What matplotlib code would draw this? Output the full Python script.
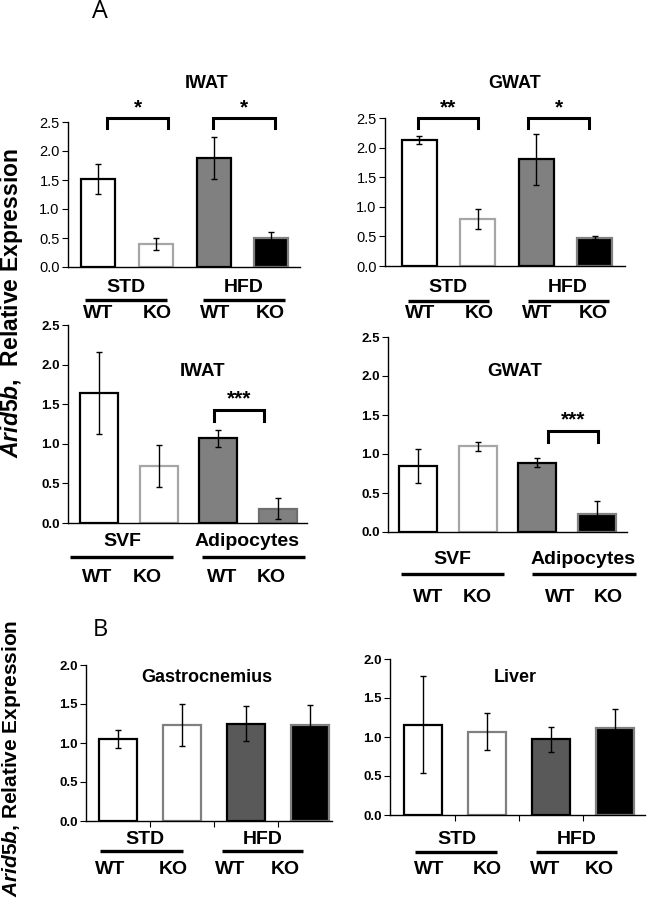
import numpy as np
import matplotlib
matplotlib.use("Agg")
import matplotlib.pyplot as plt
from matplotlib.transforms import Affine2D
from matplotlib.lines import Line2D

plt.rcParams["font.family"] = ["Liberation Sans", "DejaVu Sans"]
plt.rcParams["mathtext.fontset"] = "custom"
plt.rcParams["mathtext.it"] = "Liberation Sans:italic:bold"
plt.rcParams["mathtext.rm"] = "Liberation Sans:bold"

# 数据
iwat_diet_mean = [1.52, 0.40, 1.88, 0.50]
iwat_diet_err = [0.26, 0.10, 0.36, 0.10]
gwat_diet_mean = [2.13, 0.79, 1.80, 0.48]
gwat_diet_err = [0.07, 0.17, 0.43, 0.03]
iwat_frac_mean = [1.64, 0.72, 1.07, 0.18]
iwat_frac_err = [0.52, 0.26, 0.11, 0.13]
gwat_frac_mean = [0.85, 1.10, 0.89, 0.23]
gwat_frac_err = [0.22, 0.06, 0.06, 0.17]
gastro_mean = [1.05, 1.23, 1.25, 1.23]
gastro_err = [0.12, 0.27, 0.22, 0.26]
liver_mean = [1.16, 1.07, 0.97, 1.12]
liver_err = [0.62, 0.24, 0.16, 0.24]

genotypes = ["WT", "KO", "WT", "KO"]
diet_groups = ["STD", "HFD"]
frac_groups = ["SVF", "Adipocytes"]

W, H = 647, 900
fig = plt.figure(figsize=(W / 100, H / 100), dpi=100)
# 像素坐标（左上角为原点）
px = Affine2D().scale(1 / W, -1 / H).translate(0, 1) + fig.transFigure


def panel(means, errs, fills, edges, box, c0, sp, bw, ymax, bold_ticks, xticks=False):
    left, top, right, bottom = box
    ax = fig.add_axes([left / W, 1 - bottom / H, (right - left) / W, (bottom - top) / H])
    x = np.arange(len(means))
    ax.bar(x, means, width=bw / sp, color=fills, edgecolor=edges, linewidth=1.6, zorder=2)
    ax.errorbar(x, means, yerr=errs, fmt="none", ecolor="black", elinewidth=1,
                capsize=2, capthick=1, zorder=3)
    ax.set_xlim((left - c0) / sp, (right - c0) / sp)
    ax.set_ylim(0, ymax)
    ax.set_yticks(np.arange(0, ymax + 0.01, 0.5))
    ax.yaxis.set_major_formatter("{x:.1f}")
    for s in ["top", "right"]:
        ax.spines[s].set_visible(False)
    for s in ["left", "bottom"]:
        ax.spines[s].set_linewidth(1.0)
    ax.tick_params(axis="y", direction="out", length=4, width=0.8, pad=2,
                   labelsize=10.5 if not bold_ticks else 9.5)
    for lab in ax.get_yticklabels():
        lab.set_fontweight("bold" if bold_ticks else "normal")
    if xticks:
        ax.set_xticks([0.5, 1.5, 2.5])
        ax.set_xticklabels([])
        ax.tick_params(axis="x", direction="out", length=4, width=0.8)
    else:
        ax.set_xticks([])
    ax.patch.set_alpha(0)
    return ax


def text(x, y, s, size=12, weight="bold", **kw):
    fig.text(x, y, s, transform=px, ha="center", va="center", fontsize=size,
             fontweight=weight, **kw)


def hline(x0, x1, y, lw=2.4):
    fig.add_artist(Line2D([x0, x1], [y, y], transform=px, color="black", lw=lw,
                          solid_capstyle="butt"))


def bracket(x0, x1, yt, yb, stars, ys):
    fig.add_artist(Line2D([x0, x0, x1, x1], [yb, yt, yt, yb], transform=px,
                          color="black", lw=2.2, solid_joinstyle="miter"))
    text((x0 + x1) / 2, ys, stars, size=15)


def labels(groups, gx, ul, yg, yu, wx, yw, size=14):
    for g, cx, (u0, u1) in zip(groups, gx, ul):
        text(cx, yg, g, size=size)
        hline(u0, u1, yu)
    for g, cx in zip(genotypes, wx):
        text(cx, yw, g, size=size)


diet_fill = ["white", "white", "#808080", "black"]
diet_edge = ["black", "#a6a6a6", "black", "#808080"]

# A: IWAT (饮食)
panel(iwat_diet_mean, iwat_diet_err, diet_fill, diet_edge,
      (68, 122, 300, 267), 98, 57.8, 34, 2.5, False)
text(207, 84, "IWAT", size=13)
bracket(107, 168, 118, 128, "*", 108)
bracket(213, 275, 118, 128, "*", 108)
labels(diet_groups, [126, 244], [(85, 167), (203, 285)], 288, 300,
       [98, 157, 215, 270], 313)

# A: GWAT (饮食)
panel(gwat_diet_mean, gwat_diet_err, diet_fill, diet_edge,
      (385, 118, 625, 266), 419, 58.5, 35, 2.5, False)
text(515, 84, "GWAT", size=13)
bracket(418, 478, 118, 128, "**", 108)
bracket(528, 589, 118, 128, "*", 108)
labels(diet_groups, [448, 568], [(408, 489), (528, 609)], 288, 301,
       [420, 479, 537, 593], 313)

# A: IWAT (SVF / 脂肪细胞)
panel(iwat_frac_mean, iwat_frac_err,
      ["white", "white", "#808080", "#808080"],
      ["black", "#a6a6a6", "black", "#6e6e6e"],
      (68, 325, 307, 523), 99, 59.5, 38, 2.5, True)
text(203, 372, "IWAT", size=13.5)
bracket(214, 264, 410, 421, "***", 399)
labels(frac_groups, [122, 247], [(70, 173), (202, 305)], 542, 557,
       [97, 147, 222, 271], 578)

# A: GWAT (SVF / 脂肪细胞)
panel(gwat_frac_mean, gwat_frac_err,
      ["white", "white", "#808080", "black"],
      ["black", "#a6a6a6", "black", "#808080"],
      (388, 337, 627, 532), 418, 59.7, 38, 2.5, True)
text(515, 372, "GWAT", size=13.5)
bracket(548, 598, 431, 442, "***", 420)
labels(frac_groups, [452, 583], [(401, 504), (532, 636)], 560, 574,
       [428, 477, 560, 608], 597)

# B
tissue_fill = ["white", "white", "#595959", "black"]
tissue_edge = ["black", "#808080", "black", "#808080"]
panel(gastro_mean, gastro_err, tissue_fill, tissue_edge,
      (86, 665, 332, 821), 118, 64, 38, 2.0, True, xticks=True)
text(207, 678, "Gastrocnemius", size=13)
labels(diet_groups, [145, 263], [(100, 183), (222, 303)], 840, 851,
       [110, 173, 230, 285], 870)

panel(liver_mean, liver_err, tissue_fill, tissue_edge,
      (390, 659, 645, 815), 423, 64, 38, 2.0, True, xticks=True)
text(515, 678, "Liver", size=13)
labels(diet_groups, [457, 577], [(415, 497), (536, 617)], 840, 852,
       [429, 487, 545, 599], 869)

# 面板字母和 y 轴标题
text(100, 12, "A", size=18, weight="normal", family="Open Sans")
text(100, 630, "B", size=17, weight="normal", family="Open Sans")
text(12, 303, r"$\mathit{Arid5b}$,  Relative Expression", size=16.5, rotation=90)
text(12, 758, r"$\mathit{Arid5b}$, Relative Expression", size=15, rotation=90)

fig.savefig("out.png", dpi=100)
